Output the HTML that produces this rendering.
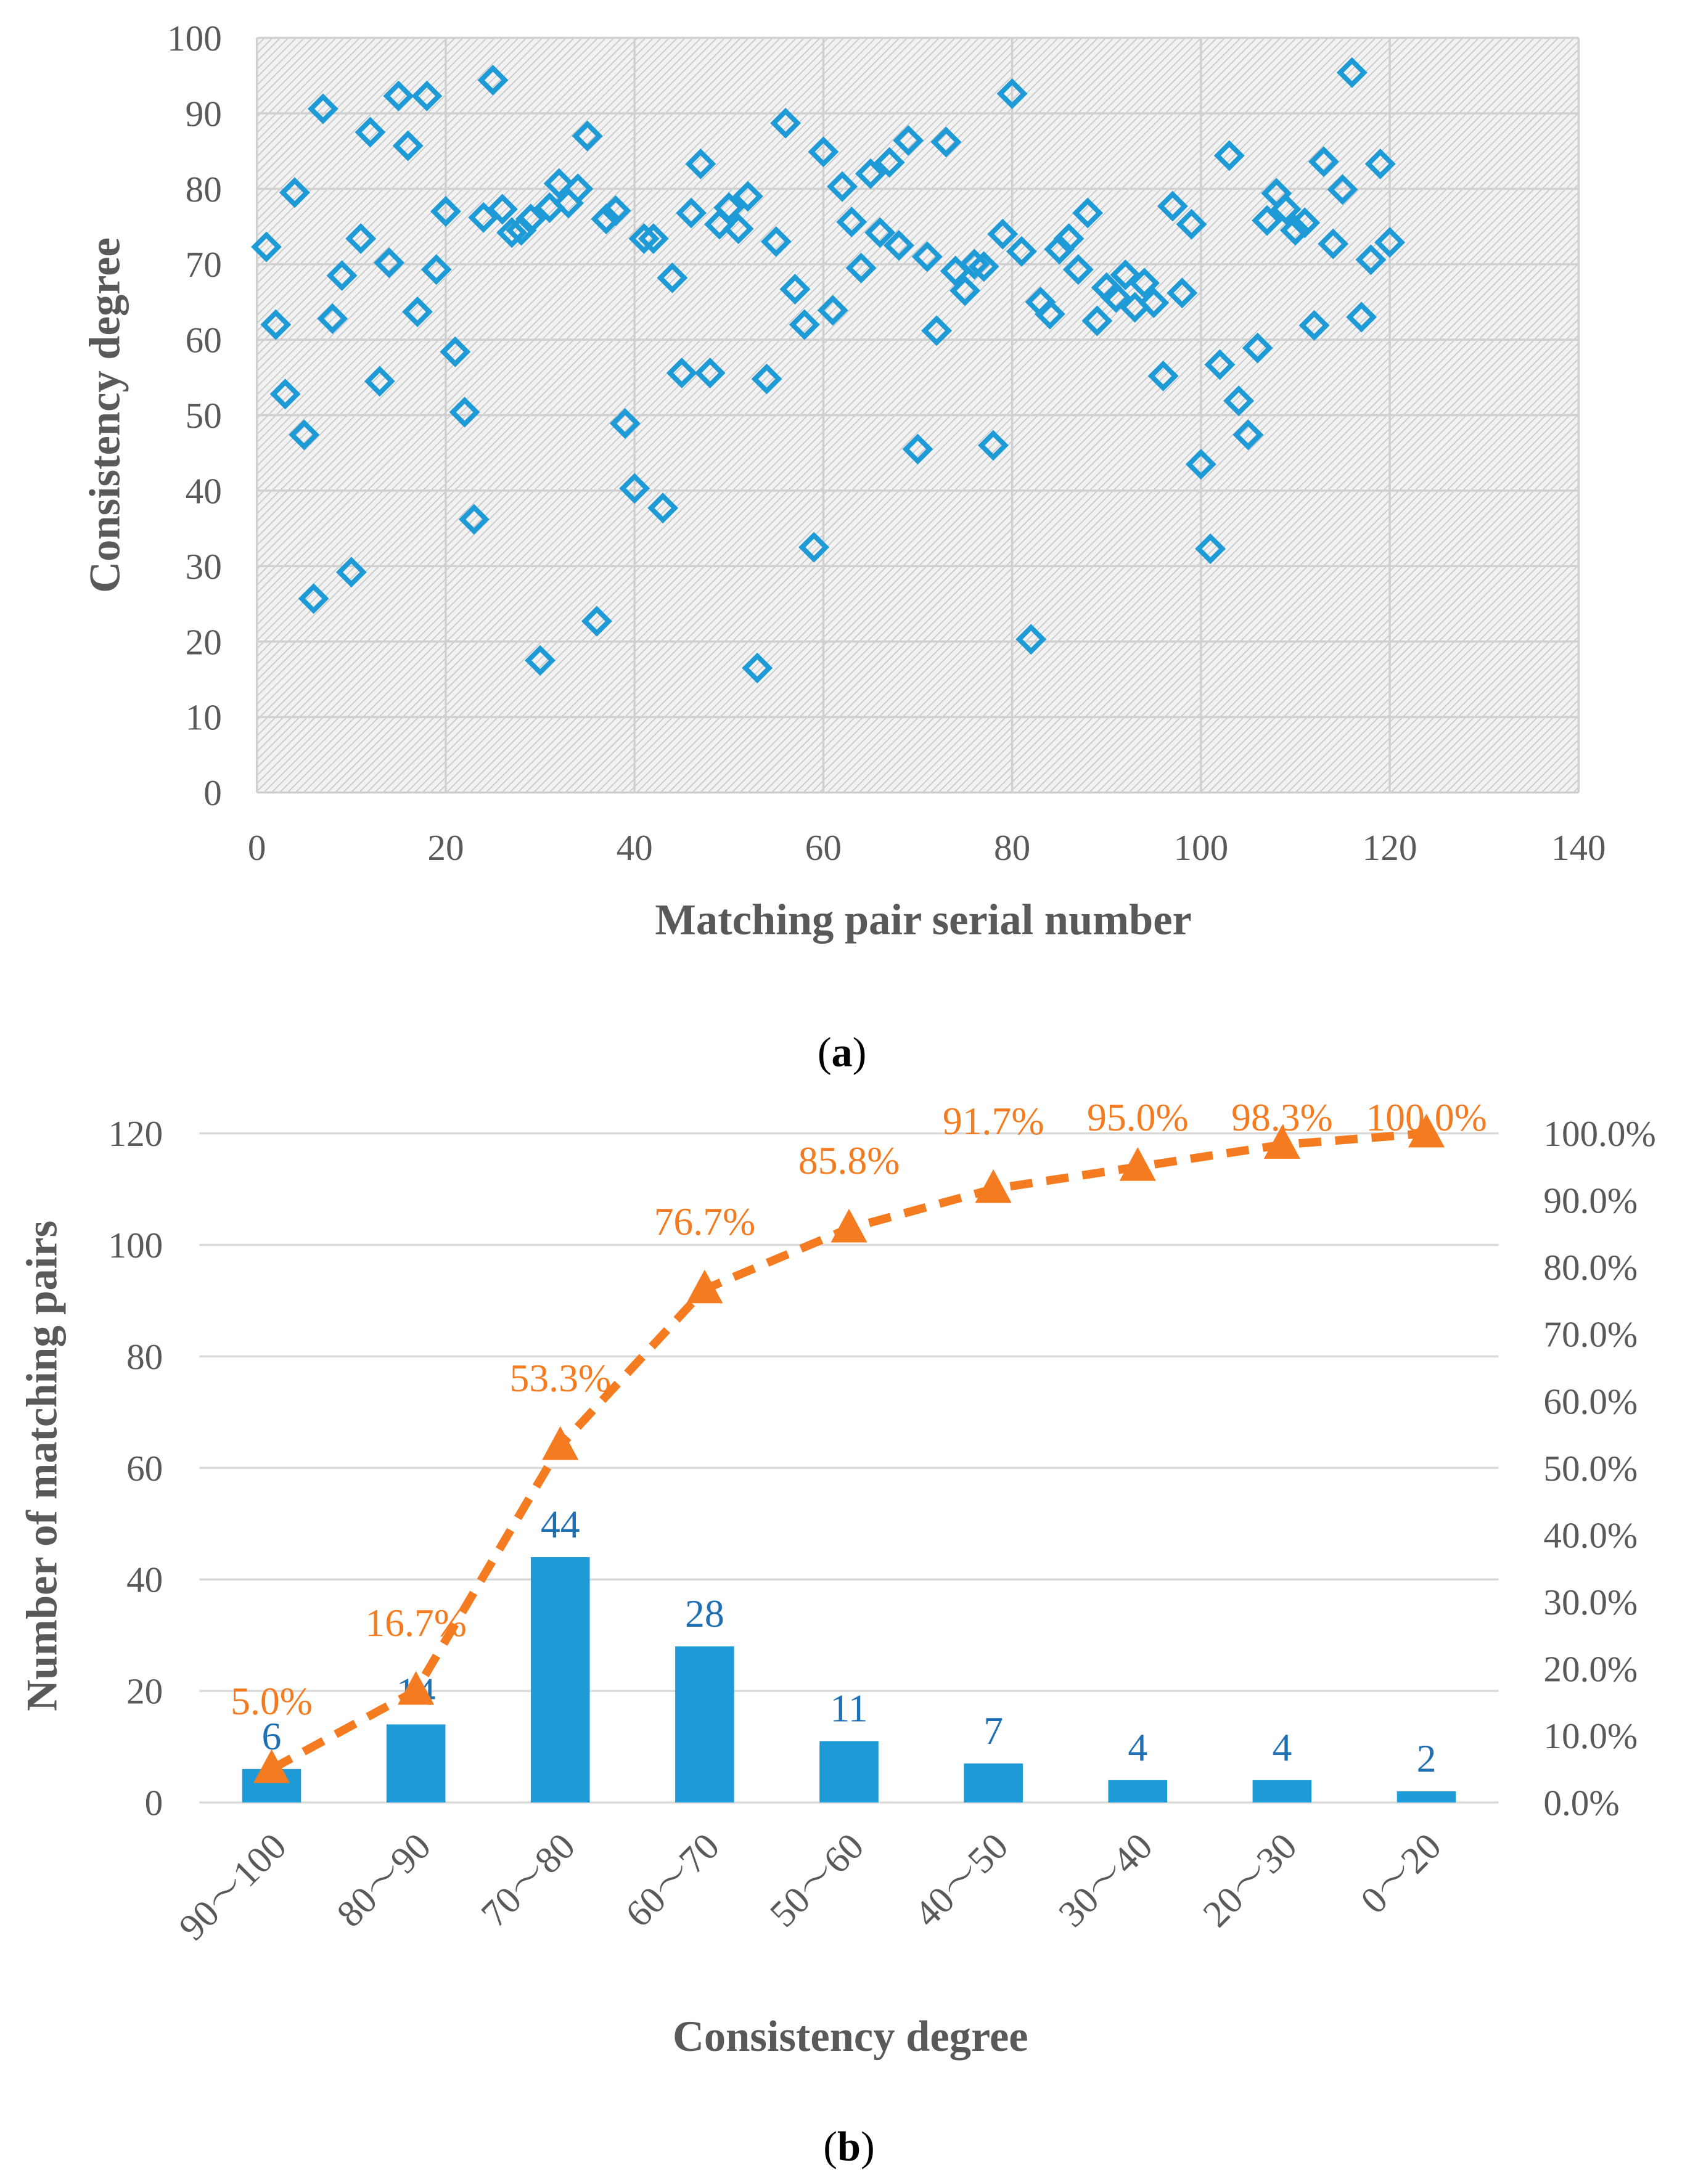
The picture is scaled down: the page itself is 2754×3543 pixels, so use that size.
<!DOCTYPE html>
<html><head><meta charset="utf-8">
<style>
html,body{margin:0;padding:0;background:#fff;}
svg{display:block;}
text{font-family:"Liberation Serif","Noto Serif CJK SC",serif;}
</style></head>
<body>
<svg id="root" width="2754" height="3543" viewBox="0 0 1210 1557" xmlns="http://www.w3.org/2000/svg">
<defs>
<pattern id="hatch" patternUnits="userSpaceOnUse" width="4" height="4" patternTransform="rotate(45)">
<rect width="4" height="4" fill="#f2f2f2"/>
<line x1="0" y1="0" x2="0" y2="4" stroke="#c4c4c4" stroke-width="1.4"/>
</pattern>
</defs>
<g id="chartA"></g>
<text x="600" y="760" text-anchor="middle" font-size="30" fill="#000">(<tspan font-weight="bold">a</tspan>)</text>
<g id="chartB"></g>
<text x="605" y="1540" text-anchor="middle" font-size="30" fill="#000">(<tspan font-weight="bold">b</tspan>)</text>
</svg>
<script>
// ---- Chart A data ----
const serials = Array.from({length:120},(_,i)=>i+1);
const consistency = [72.3,62,52.8,79.5,47.4,25.7,90.6,62.8,68.5,29.2,73.4,87.5,54.5,70.2,92.3,85.7,63.7,92.3,69.3,77,
58.4,50.4,36.2,76.2,94.4,77.3,74.2,74.5,76,17.5,77.5,80.7,78.1,80,87,22.7,76,77.1,48.9,40.3,
73.4,73.4,37.7,68.2,55.6,76.8,83.3,55.6,75.3,77.5,74.7,79,16.5,54.8,73,88.7,66.7,62,32.5,84.9,
63.9,80.3,75.6,69.5,82,74.2,83.5,72.5,86.4,45.5,71,61.2,86.2,69.1,66.5,70,69.7,46,74,92.6,
71.7,20.3,65,63.4,72,73.4,69.3,76.8,62.5,66.9,65.6,68.6,64.3,67.5,64.9,55.2,77.7,66.2,75.3,43.5,
32.3,56.7,84.4,51.9,47.4,58.9,75.8,79.4,77.3,74.5,75.5,61.9,83.6,72.7,79.9,95.4,63,70.6,83.3,72.9];
const xTicksA = [0,20,40,60,80,100,120,140];
const yTicksA = [0,10,20,30,40,50,60,70,80,90,100];
// ---- Chart B data ----
const categories = ["90～100","80～90","70～80","60～70","50～60","40～50","30～40","20～30","0～20"];
const counts = [6,14,44,28,11,7,4,4,2];
const cumulative = [5.0,16.7,53.3,76.7,85.8,91.7,95.0,98.3,100.0];
const yTicksB = [0,20,40,60,80,100,120];
const yTicksB2 = [0,10,20,30,40,50,60,70,80,90,100];

const NS="http://www.w3.org/2000/svg";
function mk(tag,attrs,parent,txt){const e=document.createElementNS(NS,tag);for(const k in attrs)e.setAttribute(k,attrs[k]);if(txt!==undefined)e.textContent=txt;parent.appendChild(e);return e;}
const gray="#595959";

// ---- Chart A ----
const A=document.getElementById('chartA');
const ax0=183,ax1=1125,ay0=565,ay1=27;
const xA=v=>ax0+(v-0)/140*(ax1-ax0);
const yA=v=>ay0-(v/100)*(ay0-ay1);
let bg=mk('rect',{x:ax0,y:ay1,width:ax1-ax0,height:ay0-ay1,fill:'url(#hatch)'},A);


yTicksA.forEach(t=>{
  const l=mk('line',{x1:ax0,x2:ax1,y1:yA(t),y2:yA(t),stroke:'#d0d0d0','stroke-width':1.5},A);
  
  
  const tx=mk('text',{x:158,y:yA(t)+9,'text-anchor':'end','font-size':26,fill:gray},A,String(t));
  
  
});
xTicksA.forEach(t=>{
  const l=mk('line',{x1:xA(t),x2:xA(t),y1:ay1,y2:ay0,stroke:'#d0d0d0','stroke-width':1.5},A);
  
  
  const tx=mk('text',{x:xA(t),y:613,'text-anchor':'middle','font-size':26,fill:gray},A,String(t));
  
  
});
serials.forEach((s,i)=>{
  const cx=xA(s),cy=yA(consistency[i]),r=8.5;
  const p=mk('polygon',{points:`${cx},${cy-r} ${cx+r},${cy} ${cx},${cy+r} ${cx-r},${cy}`,fill:'none',stroke:'#1E9BD7','stroke-width':3.5},A);
  
  
});
let t1=mk('text',{x:658,y:666,'text-anchor':'middle','font-size':31,'font-weight':'bold',fill:gray},A,'Matching pair serial number');


let t2=mk('text',{x:0,y:0,'text-anchor':'middle','font-size':31,'font-weight':'bold',fill:gray,transform:'translate(85,296) rotate(-90)'},A,'Consistency degree');



// ---- Chart B ----
const B=document.getElementById('chartB');
const bx0=142,bx1=1068,by0=1285,by1=808;
const band=(bx1-bx0)/categories.length;
const xB=i=>bx0+band*(i+0.5);
const yB=v=>by0-v/120*(by0-by1);
const yP=v=>by0-v/100*(by0-by1);
yTicksB.forEach(t=>{
  const l=mk('line',{x1:bx0,x2:bx1,y1:yB(t),y2:yB(t),stroke:'#d9d9d9','stroke-width':1.5},B);
  
  
  const tx=mk('text',{x:116,y:yB(t)+9,'text-anchor':'end','font-size':26,fill:gray},B,String(t));
  
  
});
yTicksB2.forEach(t=>{
  const tx=mk('text',{x:1100,y:yP(t)+9,'text-anchor':'start','font-size':26,fill:gray},B,t.toFixed(1)+'%');
  
  
});
categories.forEach((c,i)=>{
  const bw=42;
  const r=mk('rect',{x:xB(i)-bw/2,y:yB(counts[i]),width:bw,height:yB(0)-yB(counts[i]),fill:'#1E9BD7'},B);
  
  
  const lb=mk('text',{x:xB(i),y:yB(counts[i])-14,'text-anchor':'middle','font-size':28,fill:'#1F6FB5'},B,String(counts[i]));
  
  
  const xl=mk('text',{x:0,y:0,'text-anchor':'end','font-size':27,fill:gray,transform:`translate(${xB(i)+12},${1318}) rotate(-45)`},B,c);
  
  
});
let d='';
cumulative.forEach((v,i)=>{d+=(i?'L':'M')+xB(i)+','+yP(v)+' ';});
const path=mk('path',{d:d,fill:'none',stroke:'#F47B20','stroke-width':6,'stroke-dasharray':'16,10'},B);


cumulative.forEach((v,i)=>{
  const cx=xB(i),cy=yP(v);
  const m=mk('polygon',{points:`${cx},${cy-14} ${cx+13},${cy+10} ${cx-13},${cy+10}`,fill:'#F47B20'},B);
  
  
  const ly=Math.max(cy-39,806);
  const lb=mk('text',{x:cx,y:ly,'text-anchor':'middle','font-size':28,fill:'#F47B20'},B,v.toFixed(1)+'%');
  
  
});
let t3=mk('text',{x:606,y:1462,'text-anchor':'middle','font-size':31,'font-weight':'bold',fill:gray},B,'Consistency degree');


let t4=mk('text',{x:0,y:0,'text-anchor':'middle','font-size':31,'font-weight':'bold',fill:gray,transform:'translate(40,1045) rotate(-90)'},B,'Number of matching pairs');


</script>
</body></html>
